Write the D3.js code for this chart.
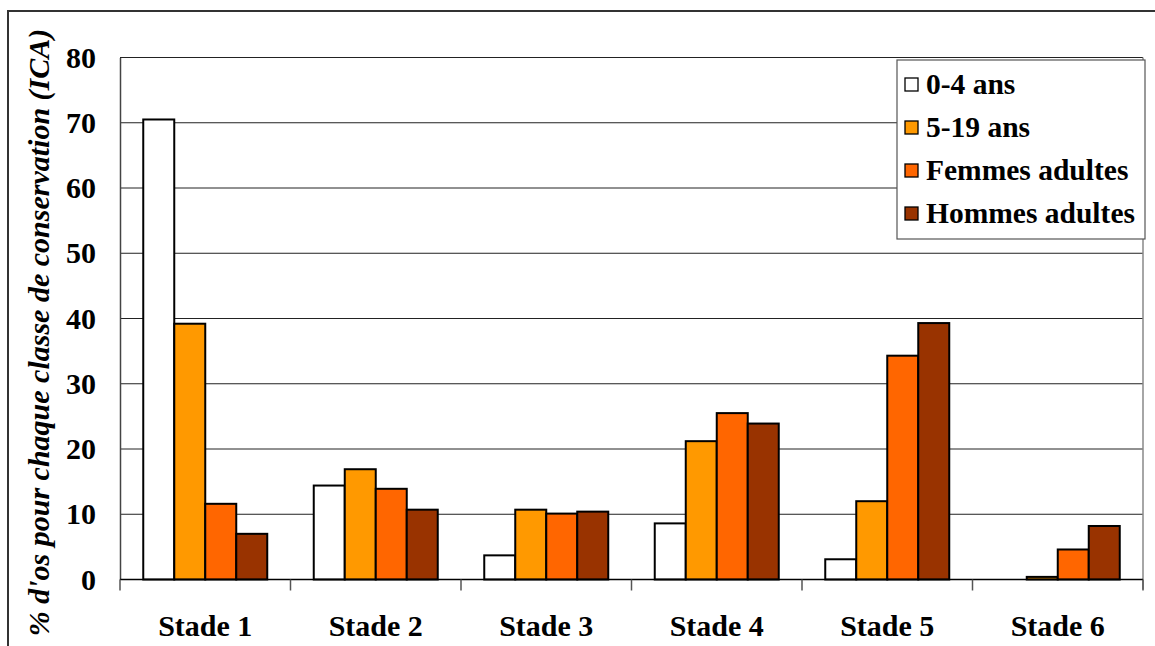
<!DOCTYPE html>
<html>
<head>
<meta charset="utf-8">
<script src="https://cdn.jsdelivr.net/npm/d3@7/dist/d3.min.js"></script>
<style>
  html, body { margin: 0; padding: 0; background: #fff; }
  svg { display: block; }
</style>
</head>
<body>
<svg id="chart" width="1155" height="646"></svg>
<script>
// ---- Data ----
const categories = ["Stade 1", "Stade 2", "Stade 3", "Stade 4", "Stade 5", "Stade 6"];
const seriesNames = ["0-4 ans", "5-19 ans", "Femmes adultes", "Hommes adultes"];
const seriesColors = ["#FFFFFF", "#FF9900", "#FF6600", "#993300"];
const vals0_4   = [70.5, 14.4, 3.7, 8.6, 3.1, 0];
const vals5_19  = [39.2, 16.9, 10.7, 21.2, 12.0, 0.4];
const valsFem   = [11.6, 13.9, 10.1, 25.5, 34.3, 4.6];
const valsHom   = [7.0, 10.7, 10.4, 23.9, 39.3, 8.2];
const seriesValues = [vals0_4, vals5_19, valsFem, valsHom];
const yTicks = [0, 10, 20, 30, 40, 50, 60, 70, 80];
const yTitle = "% d'os pour chaque classe de conservation (ICA)";

const FONT = "'Liberation Serif', 'Times New Roman', serif";

// ---- Layout ----
const svg = d3.select("#chart");
const plotL = 120, plotR = 1143, plotT = 57.5, plotB = 579.5;

// outer chart border (extends beyond right/bottom edges)
svg.append("rect").attr("x", 8).attr("y", 11).attr("width", 1200).attr("height", 700)
  .attr("fill", "none").attr("stroke", "#333").attr("stroke-width", 2);

const x0 = d3.scaleBand().domain(categories).range([plotL, plotR]).padding(0);
const x1 = d3.scaleBand().domain(seriesNames).range([0, x0.bandwidth()]).paddingInner(0).paddingOuter(0.75);
const y = d3.scaleLinear().domain([0, 80]).range([plotB, plotT]);

// gridlines
svg.append("g").selectAll("line").data(yTicks.filter(t => t > 0)).join("line")
  .attr("x1", plotL).attr("x2", plotR)
  .attr("y1", d => y(d)).attr("y2", d => y(d))
  .attr("stroke", "#222").attr("stroke-width", 1);

// plot right border
svg.append("line").attr("x1", plotR).attr("x2", plotR).attr("y1", plotT).attr("y2", plotB + 10)
  .attr("stroke", "#888").attr("stroke-width", 1.5);

// bars
const groups = svg.append("g").selectAll("g").data(categories).join("g")
  .attr("transform", d => `translate(${x0(d)},0)`);
groups.selectAll("rect")
  .data((c, ci) => seriesNames.map((s, si) => ({ s, si, v: seriesValues[si][ci] })).filter(d => d.v > 0))
  .join("rect")
  .attr("x", d => x1(d.s))
  .attr("width", x1.bandwidth())
  .attr("y", d => y(d.v))
  .attr("height", d => y(0) - y(d.v))
  .attr("fill", d => seriesColors[d.si])
  .attr("stroke", "#000").attr("stroke-width", 2);

// y axis
const yAxis = d3.axisLeft(y).tickValues(yTicks).tickSize(0).tickPadding(24);
const gy = svg.append("g").attr("transform", `translate(${plotL},0)`).call(yAxis);
gy.attr("font-family", null).attr("font-size", null);
gy.select(".domain").attr("stroke", "#444").attr("stroke-width", 1.5);
gy.selectAll("text").style("font-size", "30px").style("font-family", FONT)
  .style("font-weight", "bold").attr("fill", "#000");

// x axis
svg.append("line").attr("x1", plotL).attr("x2", plotR).attr("y1", plotB).attr("y2", plotB)
  .attr("stroke", "#000").attr("stroke-width", 1.5);
const boundaries = categories.map(c => x0(c)).concat([x0(categories[categories.length - 1]) + x0.bandwidth()]);
svg.append("g").selectAll("line").data(boundaries).join("line")
  .attr("x1", d => d).attr("x2", d => d).attr("y1", plotB).attr("y2", plotB + 11)
  .attr("stroke", "#555").attr("stroke-width", 1.5);
svg.append("g").selectAll("text").data(categories).join("text")
  .attr("x", d => x0(d) + x0.bandwidth() / 2).attr("y", 636)
  .attr("text-anchor", "middle")
  .style("font-family", FONT).style("font-weight", "bold").style("font-size", "30px")
  .attr("fill", "#000")
  .text(d => d);

// y title
svg.append("text")
  .attr("transform", "translate(49,332.5) rotate(-90)")
  .attr("text-anchor", "middle")
  .style("font-family", FONT).style("font-weight", "bold")
  .style("font-size", "30px").style("font-style", "italic")
  .attr("fill", "#000")
  .text(yTitle);

// legend
const lg = svg.append("g");
lg.append("rect").attr("x", 897).attr("y", 60).attr("width", 248).attr("height", 179)
  .attr("fill", "#fff").attr("stroke", "#555").attr("stroke-width", 1.2);
const rowY = d3.scalePoint().domain(seriesNames).range([84, 213]);
const items = lg.selectAll("g").data(seriesNames).join("g");
items.append("rect").attr("x", 905).attr("y", d => rowY(d) - 6).attr("width", 13).attr("height", 13)
  .attr("fill", (d, i) => seriesColors[i]).attr("stroke", "#000").attr("stroke-width", 1.3);
items.append("text").attr("x", 926).attr("y", d => rowY(d) + 10)
  .style("font-family", FONT).style("font-weight", "bold").style("font-size", "29.5px")
  .attr("fill", "#000")
  .text(d => d);
</script>
</body>
</html>
